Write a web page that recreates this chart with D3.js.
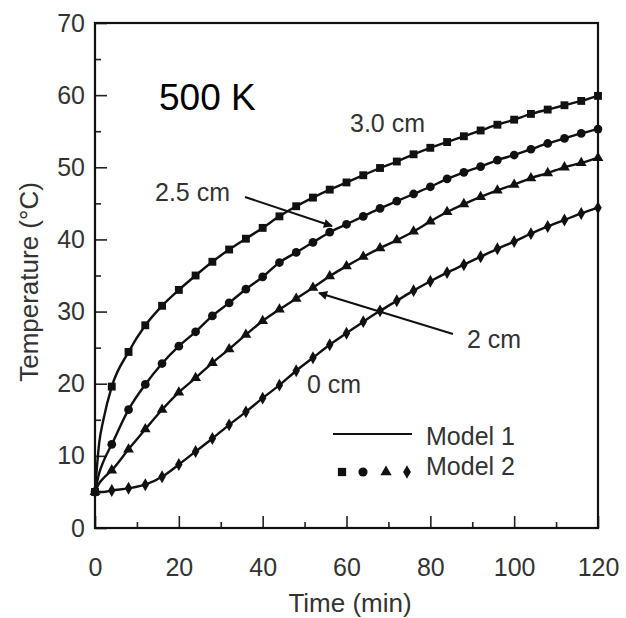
<!DOCTYPE html>
<html>
<head>
<meta charset="utf-8">
<script src="https://cdn.jsdelivr.net/npm/d3@7"></script>
<style>
  body { margin: 0; background: #fff; }
  text { font-family: "Liberation Sans", Arial, sans-serif; }
</style>
</head>
<body>
<svg id="chart" width="626" height="618"></svg>
<script>
// time points (min) shared by all series
const times = [0, 4, 8, 12, 16, 20, 24, 28, 32, 36, 40, 44, 48, 52, 56, 60,
  64, 68, 72, 76, 80, 84, 88, 92, 96, 100, 104, 108, 112, 116, 120];

// temperatures (°C)
const temp30 = [5, 19.6, 24.4, 28.1, 30.8, 33.0, 35.0, 36.9, 38.6, 40.1, 41.6, 43.2, 44.6, 45.8, 46.9, 47.9,
  48.9, 49.9, 50.8, 51.8, 52.7, 53.5, 54.3, 55.1, 55.9, 56.6, 57.4, 58.0, 58.6, 59.2, 59.9];
const temp25 = [5, 11.6, 16.4, 19.9, 22.8, 25.2, 27.2, 29.4, 31.2, 33.1, 34.8, 36.8, 38.2, 39.6, 41.0, 42.1,
  43.2, 44.3, 45.3, 46.3, 47.3, 48.4, 49.3, 50.1, 51.0, 51.7, 52.5, 53.3, 54.0, 54.7, 55.3];
const temp20 = [5, 8.0, 10.9, 13.7, 16.4, 18.8, 20.8, 22.9, 24.8, 26.8, 28.7, 30.3, 31.8, 33.3, 34.9, 36.3,
  37.6, 38.8, 39.9, 41.1, 42.5, 43.8, 44.9, 45.9, 46.8, 47.6, 48.5, 49.2, 50.0, 50.6, 51.3];
const temp00 = [5, 5.2, 5.5, 6.0, 7.1, 8.8, 10.6, 12.4, 14.3, 16.1, 18.0, 19.8, 21.8, 23.6, 25.4, 27.0,
  28.6, 30.1, 31.5, 32.9, 34.2, 35.4, 36.5, 37.6, 38.7, 39.7, 40.8, 41.8, 42.7, 43.6, 44.4];

// extra Model 1 readings in the steep first minutes (line only)
const earlyTimes = [1, 2];
const early30 = [11.8, 15.0];
const early25 = [7.6, 9.2];
const early20 = [6.2, 6.9];
const early00 = [5.0, 5.0];

const xTicks = [0, 20, 40, 60, 80, 100, 120];
const xMinor = [10, 30, 50, 70, 90, 110];
const yTicks = [0, 10, 20, 30, 40, 50, 60, 70];
const yMinor = [5, 15, 25, 35, 45, 55, 65];

const series = [
  { name: "3.0 cm", values: temp30, early: early30, symbol: d3.symbolSquare, size: 62 },
  { name: "2.5 cm", values: temp25, early: early25, symbol: d3.symbolCircle, size: 60 },
  { name: "2 cm", values: temp20, early: early20, symbol: d3.symbolTriangle, size: 50 },
  { name: "0 cm", values: temp00, early: early00, symbol: d3.symbolDiamond, size: 48 }
];

const margin = { top: 23, right: 28, bottom: 90, left: 95 };
const width = 626, height = 618;
const innerW = width - margin.left - margin.right;
const innerH = height - margin.top - margin.bottom;

const svg = d3.select("#chart");
const g = svg.append("g").attr("transform", `translate(${margin.left},${margin.top})`);

const x = d3.scaleLinear().domain([0, 120]).range([0, innerW]);
const y = d3.scaleLinear().domain([0, 70]).range([innerH, 0]);

const ink = "#333";

// axes (ticks point inward)
const xAxis = g.append("g")
  .attr("transform", `translate(0,${innerH})`)
  .call(d3.axisBottom(x).tickValues(xTicks).tickSize(-12).tickPadding(30));
xAxis.selectAll("text").attr("font-size", 25).attr("fill", ink)
  .attr("font-family", "Liberation Sans, Arial, sans-serif");
g.append("g")
  .attr("transform", `translate(0,${innerH})`)
  .call(d3.axisBottom(x).tickValues(xMinor).tickSize(-6).tickFormat(""));

const yAxis = g.append("g")
  .call(d3.axisLeft(y).tickValues(yTicks).tickSize(-12).tickPadding(10));
yAxis.selectAll("text").attr("font-size", 25).attr("fill", ink)
  .attr("font-family", "Liberation Sans, Arial, sans-serif");
g.append("g")
  .call(d3.axisLeft(y).tickValues(yMinor).tickSize(-6).tickFormat(""));

g.selectAll(".domain").remove();
g.selectAll(".tick line").attr("stroke", "#222").attr("stroke-width", 1.6);

// frame
g.append("rect")
  .attr("width", innerW).attr("height", innerH)
  .attr("fill", "none").attr("stroke", "#111").attr("stroke-width", 2.2);

// Model 1: lines
const line = d3.line()
  .x(d => x(d.t))
  .y(d => y(d.v))
  .curve(d3.curveMonotoneX);

function linePoints(s) {
  const pts = times.map((t, i) => ({ t: t, v: s.values[i] }));
  earlyTimes.forEach((t, i) => pts.push({ t: t, v: s.early[i] }));
  return pts.sort((a, b) => a.t - b.t);
}

g.selectAll(".model1")
  .data(series)
  .join("path")
  .attr("class", "model1")
  .attr("d", d => line(linePoints(d)))
  .attr("fill", "none")
  .attr("stroke", "#111")
  .attr("stroke-width", 2.4);

// Model 2: markers
series.forEach(s => {
  g.append("g").selectAll("path")
    .data(s.values)
    .join("path")
    .attr("transform", (d, i) => `translate(${x(times[i])},${y(d)})`)
    .attr("d", d3.symbol().type(s.symbol).size(s.size))
    .attr("fill", "#111");
});

// arrow head
svg.append("defs").append("marker")
  .attr("id", "head")
  .attr("viewBox", "0 0 10 10")
  .attr("refX", 9).attr("refY", 5)
  .attr("markerWidth", 12).attr("markerHeight", 9)
  .attr("markerUnits", "userSpaceOnUse")
  .attr("orient", "auto")
  .append("path").attr("d", "M0,0 L10,5 L0,10 z").attr("fill", "#111");

// curve labels
const labelFont = 25;
svg.append("text").attr("x", 350).attr("y", 132).attr("font-size", labelFont).attr("fill", ink).text("3.0 cm");
svg.append("text").attr("x", 155).attr("y", 201).attr("font-size", labelFont).attr("fill", ink).text("2.5 cm");
svg.append("text").attr("x", 467).attr("y", 348).attr("font-size", labelFont).attr("fill", ink).text("2 cm");
svg.append("text").attr("x", 307).attr("y", 393).attr("font-size", labelFont).attr("fill", ink).text("0 cm");

svg.append("line").attr("x1", 245).attr("y1", 197).attr("x2", 332).attr("y2", 226)
  .attr("stroke", "#111").attr("stroke-width", 2).attr("marker-end", "url(#head)");
svg.append("line").attr("x1", 453).attr("y1", 334).attr("x2", 319).attr("y2", 293)
  .attr("stroke", "#111").attr("stroke-width", 2).attr("marker-end", "url(#head)");

// title
svg.append("text").attr("x", 159).attr("y", 110)
  .attr("font-family", "Open Sans, Noto Sans, sans-serif")
  .attr("font-size", 37).attr("fill", "#000").text("500 K");

// legend
svg.append("line").attr("x1", 333).attr("x2", 412).attr("y1", 434).attr("y2", 434)
  .attr("stroke", "#111").attr("stroke-width", 2.2);
svg.append("text").attr("x", 426).attr("y", 445).attr("font-size", labelFont).attr("fill", ink).text("Model 1");
const legendX = [342, 363, 386, 407];
series.forEach((s, i) => {
  svg.append("path")
    .attr("transform", `translate(${legendX[i]},472)`)
    .attr("d", d3.symbol().type(s.symbol).size(s.size * 1.1))
    .attr("fill", "#111");
});
svg.append("text").attr("x", 426).attr("y", 475).attr("font-size", labelFont).attr("fill", ink).text("Model 2");

// axis titles
svg.append("text")
  .attr("x", 350).attr("y", 612)
  .attr("text-anchor", "middle")
  .attr("font-size", 26).attr("fill", ink)
  .text("Time (min)");
svg.append("text")
  .attr("transform", "translate(38,282) rotate(-90)")
  .attr("text-anchor", "middle")
  .attr("font-size", 26).attr("fill", ink)
  .text("Temperature (°C)");
</script>
</body>
</html>
